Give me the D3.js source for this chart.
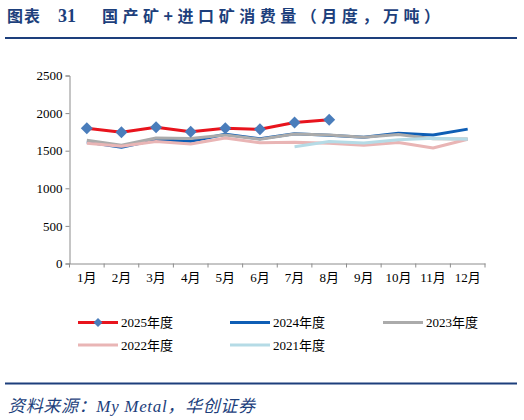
<!DOCTYPE html>
<html>
<head>
<meta charset="utf-8">
<script src="https://cdn.jsdelivr.net/npm/d3@7"></script>
<style>
  body { margin: 0; background: #fff; }
  svg { display: block; }
</style>
</head>
<body>
<div id="chart"></div>
<script>
// 月份
var months = ['1月', '2月', '3月', '4月', '5月', '6月', '7月', '8月', '9月', '10月', '11月', '12月'];
var yTicks = [0, 500, 1000, 1500, 2000, 2500];

// 各年度消费量（万吨），读图估计
var y2025 = [1800, 1745, 1812, 1752, 1798, 1785, 1875, 1910];
var y2024 = [1615, 1545, 1645, 1625, 1718, 1660, 1725, 1707, 1680, 1732, 1710, 1787];
var y2023 = [1638, 1572, 1668, 1662, 1710, 1652, 1722, 1710, 1680, 1714, 1658, 1654];
var y2022 = [1598, 1560, 1622, 1588, 1668, 1605, 1613, 1598, 1572, 1608, 1535, 1652];
var y2021 = [null, null, null, null, null, null, 1553, 1622, 1602, 1645, 1667, 1653];

var series = [
	{name: '2024年度', values: y2024, color: '#0e5eb5'},
	{name: '2023年度', values: y2023, color: '#ababab'},
	{name: '2022年度', values: y2022, color: '#e9b5b5'},
	{name: '2021年度', values: y2021, color: '#b5dbe6'},
	{name: '2025年度', values: y2025, color: '#e8141d', marker: '#4a7dbb'}
];
var legendOrder = ['2025年度', '2024年度', '2023年度', '2022年度', '2021年度'];

var w = 524;
var h = 420;
var serif = '"Times New Roman", "Liberation Serif", "Noto Sans CJK SC", serif';
var navy = '#1d3f7c';

var svg = d3.select('#chart')
	.append('svg')
	.attr('width', w)
	.attr('height', h);

// 标题
svg.append('text')
	.attr('x', 7)
	.attr('y', 22)
	.attr('font-family', '"Noto Sans CJK SC", sans-serif')
	.attr('font-weight', 'bold')
	.attr('font-size', '16px')
	.attr('fill', navy)
	.attr('textLength', 33)
	.attr('lengthAdjust', 'spacing')
	.text('图表');
svg.append('text')
	.attr('x', 58)
	.attr('y', 22)
	.attr('font-family', serif)
	.attr('font-weight', 'bold')
	.attr('font-size', '18px')
	.attr('fill', navy)
	.text('31');
svg.append('text')
	.attr('x', 102)
	.attr('y', 22)
	.attr('font-family', '"Noto Sans CJK SC", sans-serif')
	.attr('font-weight', 'bold')
	.attr('font-size', '16px')
	.attr('fill', navy)
	.attr('textLength', 338)
	.attr('lengthAdjust', 'spacing')
	.text('国产矿+进口矿消费量（月度，万吨）');
svg.append('line')
	.attr('x1', 5).attr('x2', 517)
	.attr('y1', 38).attr('y2', 38)
	.attr('stroke', navy)
	.attr('stroke-width', 2);

// 比例尺
var xScale = d3.scaleBand()
	.domain(months)
	.range([69.5, 485]);
var yScale = d3.scaleLinear()
	.domain([0, 2500])
	.range([263.5, 75.5]);

var g = svg.append('g');

var yAxis = d3.axisLeft(yScale)
	.tickValues(yTicks)
	.tickFormat(d3.format('d'))
	.tickSize(4)
	.tickPadding(3);
var gy = g.append('g')
	.attr('transform', 'translate(69.5,0)')
	.call(yAxis);

var xAxis = d3.axisBottom(xScale)
	.tickSize(0)
	.tickPadding(9);
var gx = g.append('g')
	.attr('transform', 'translate(0,263.5)')
	.call(xAxis);
// 刻度线在类目边界
gx.selectAll('.bound')
	.data(months.concat(['end']))
	.enter()
	.append('line')
	.attr('class', 'bound')
	.attr('x1', function (d, i) { return i < months.length ? xScale(d) : xScale.range()[1]; })
	.attr('x2', function (d, i) { return i < months.length ? xScale(d) : xScale.range()[1]; })
	.attr('y1', 0)
	.attr('y2', 4)
	.attr('stroke', '#8c8c8c');

[gx, gy].forEach(function (a) {
	a.select('.domain').attr('stroke', '#8c8c8c');
	a.selectAll('.tick line').attr('stroke', '#8c8c8c');
	a.selectAll('text')
		.attr('font-family', serif)
		.attr('font-size', '13px')
		.attr('fill', '#000');
});

// 折线
var line = d3.line()
	.defined(function (d) { return d != null; })
	.x(function (d, i) { return xScale(months[i]) + xScale.bandwidth() / 2; })
	.y(function (d) { return yScale(d); });

series.forEach(function (s) {
	g.append('path')
		.datum(s.values)
		.attr('d', line)
		.attr('fill', 'none')
		.attr('stroke', s.color)
		.attr('stroke-width', 3)
		.attr('stroke-linejoin', 'round');
	if (s.marker) {
		g.selectAll('.mk')
			.data(s.values)
			.enter()
			.append('path')
			.attr('d', d3.symbol().type(d3.symbolSquare).size(72))
			.attr('transform', function (d, i) {
				return 'translate(' + (xScale(months[i]) + xScale.bandwidth() / 2) + ',' + yScale(d) + ') rotate(45)';
			})
			.attr('fill', s.marker);
	}
});

// 图例
var legendPos = [[78, 322.5], [230, 322.5], [383, 322.5], [78, 345], [230, 345]];
legendOrder.forEach(function (name, i) {
	var s = series.filter(function (d) { return d.name === name; })[0];
	var p = legendPos[i];
	var lg = svg.append('g').attr('transform', 'translate(' + p[0] + ',' + p[1] + ')');
	lg.append('line')
		.attr('x1', 0).attr('x2', 40)
		.attr('y1', 0).attr('y2', 0)
		.attr('stroke', s.color)
		.attr('stroke-width', 3);
	if (s.marker) {
		lg.append('path')
			.attr('d', d3.symbol().type(d3.symbolSquare).size(40))
			.attr('transform', 'translate(20,0) rotate(45)')
			.attr('fill', s.marker);
	}
	lg.append('text')
		.attr('x', 43)
		.attr('y', 4.5)
		.attr('font-family', serif)
		.attr('font-size', '13px')
		.attr('fill', '#000')
		.text(name);
});

// 来源
svg.append('line')
	.attr('x1', 5).attr('x2', 517)
	.attr('y1', 383.5).attr('y2', 383.5)
	.attr('stroke', navy)
	.attr('stroke-width', 2);
svg.append('text')
	.attr('x', 8)
	.attr('y', 412)
	.attr('font-family', serif)
	.attr('font-style', 'italic')
	.attr('font-size', '17px')
	.attr('fill', navy)
	.attr('textLength', 247)
	.attr('lengthAdjust', 'spacing')
	.text('资料来源：My Metal，华创证券');
</script>
</body>
</html>
